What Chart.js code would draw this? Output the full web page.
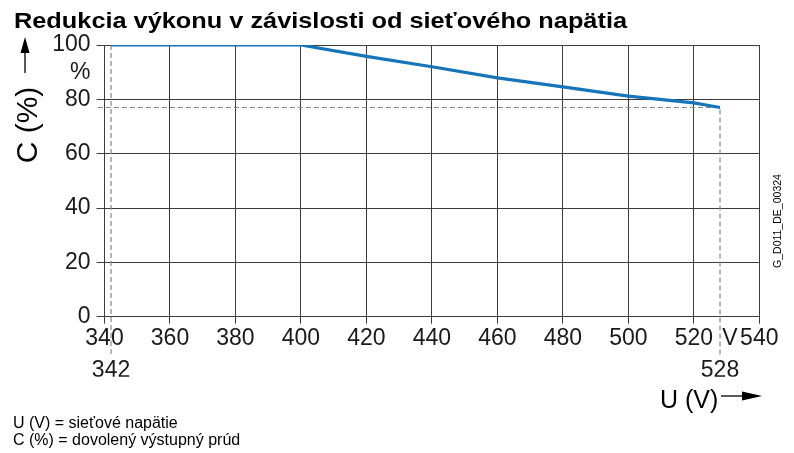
<!DOCTYPE html>
<html>
<head>
<meta charset="utf-8">
<script src="https://cdn.jsdelivr.net/npm/chart.js@4.4.1/dist/chart.umd.min.js"></script>
<style>
  html, body { margin: 0; padding: 0; background: #fff; }
  #wrap { width: 794px; height: 453px; }
</style>
</head>
<body>
<div id="wrap"><canvas id="chart"></canvas></div>
<script>
// derating curve: allowed output current vs. mains voltage
const voltage = [342, 400, 420, 440, 460, 480, 500, 520, 528];
const current = [100, 100, 95.8, 92, 87.9, 84.6, 81.2, 78.7, 77];

const xTickValues = [340, 342, 360, 380, 400, 420, 440, 460, 480, 500, 520, 528, 531, 540];
const xTickLabels = ['340', ['', '342'], '360', '380', '400', '420', '440', '460', '480', '500', '520', ['', '528'], 'V', '540'];
const yTickValues = [0, 20, 40, 60, 80, 90, 100];
const yTickLabels = ['0', '20', '40', '60', '80', '%', '100'];

const guideLow = -14;       // dashed guides run below the axis to the labels
const guideLeft = 338;      // horizontal guide starts just left of the axis
const minVoltage = 342;
const maxVoltage = 528;
const maxCurrentAtMax = 77;

const FONT = '"Liberation Sans", Arial, sans-serif';
const GRID = '#3c3c3c';

const isMajor = v => v % 20 === 0;

const extras = {
  id: 'extras',
  afterDraw(chart) {
    const c = chart.ctx;
    c.save();
    c.fillStyle = '#000';
    c.strokeStyle = '#000';

    // title (wide bold face in the original, stretch to its width)
    const title = 'Redukcia výkonu v závislosti od sieťového napätia';
    c.font = 'bold 22px ' + FONT;
    c.textAlign = 'left';
    c.textBaseline = 'alphabetic';
    const tw = c.measureText(title).width;
    c.save();
    c.translate(14, 28);
    c.scale(613 / tw, 1);
    c.fillText(title, 0, 0);
    c.restore();

    // y title with arrow
    c.save();
    c.translate(37, 125);
    c.rotate(-Math.PI / 2);
    c.font = '30px ' + FONT;
    c.textAlign = 'center';
    c.fillText('C (%)', 0, 0);
    c.restore();
    c.lineWidth = 1.3;
    c.beginPath();
    c.moveTo(25, 73);
    c.lineTo(25, 50);
    c.stroke();
    c.beginPath();
    c.moveTo(25, 37);
    c.lineTo(20.5, 53);
    c.lineTo(29.5, 53);
    c.closePath();
    c.fill();

    // x title with arrow
    c.font = '25px ' + FONT;
    c.textAlign = 'left';
    c.fillText('U (V)', 660, 408);
    c.beginPath();
    c.moveTo(721, 396);
    c.lineTo(745, 396);
    c.stroke();
    c.beginPath();
    c.moveTo(762, 396);
    c.lineTo(742, 391.5);
    c.lineTo(742, 400.5);
    c.closePath();
    c.fill();

    // drawing code
    c.save();
    c.translate(781, 221);
    c.rotate(-Math.PI / 2);
    c.font = '10.5px ' + FONT;
    c.textAlign = 'center';
    c.fillText('G_D011_DE_00324', 0, 0);
    c.restore();

    // footnotes
    c.font = '16px ' + FONT;
    c.textAlign = 'left';
    c.fillText('U (V) = sieťové napätie', 13, 428);
    c.fillText('C (%) = dovolený výstupný prúd', 13, 445);
    c.restore();
  }
};

new Chart(document.getElementById('chart'), {
  type: 'scatter',
  data: {
    datasets: [{
      data: voltage.map((v, i) => ({ x: v, y: current[i] })),
      showLine: true,
      borderColor: '#1675b9',
      borderWidth: 3.2,
      pointRadius: 0,
      fill: false
    }, {
      data: [{ x: minVoltage, y: 100 }, { x: minVoltage, y: guideLow }],
      showLine: true,
      borderColor: '#8a8a8a',
      borderWidth: 1.2,
      borderDash: [5, 3],
      pointRadius: 0,
      clip: false
    }, {
      data: [{ x: guideLeft, y: maxCurrentAtMax }, { x: maxVoltage, y: maxCurrentAtMax }, { x: maxVoltage, y: guideLow }],
      showLine: true,
      borderColor: '#8a8a8a',
      borderWidth: 1.2,
      borderDash: [5, 3],
      pointRadius: 0,
      clip: false
    }]
  },
  options: {
    responsive: true,
    maintainAspectRatio: false,
    animation: false,
    layout: { padding: { left: 44.5, right: 34.7, top: 45, bottom: 76.3 } },
    plugins: { legend: { display: false }, tooltip: { enabled: false } },
    scales: {
      x: {
        type: 'linear',
        min: 340,
        max: 540,
        afterBuildTicks: s => { s.ticks = xTickValues.map(v => ({ value: v })); },
        afterFit: s => { s.height = 60; },
        ticks: {
          autoSkip: false,
          maxRotation: 0,
          padding: -1,
          color: '#1a1a1a',
          font: { family: FONT, size: 23, lineHeight: 1.38 },
          callback: (v) => xTickLabels[xTickValues.indexOf(v)]
        },
        grid: {
          color: ctx => (ctx.tick && isMajor(ctx.tick.value)) ? GRID : 'rgba(0,0,0,0)',
          tickColor: ctx => (ctx.tick && isMajor(ctx.tick.value)) ? GRID : 'rgba(0,0,0,0)',
          tickLength: 7,
          lineWidth: 1
        },
        border: { color: GRID, width: 1 }
      },
      y: {
        min: 0,
        max: 100,
        afterBuildTicks: s => { s.ticks = yTickValues.map(v => ({ value: v })); },
        afterFit: s => { s.width = 60; },
        ticks: {
          autoSkip: false,
          padding: 6,
          color: '#1a1a1a',
          font: { family: FONT, size: 23 },
          callback: (v) => yTickLabels[yTickValues.indexOf(v)]
        },
        grid: {
          color: ctx => (ctx.tick && isMajor(ctx.tick.value)) ? GRID : 'rgba(0,0,0,0)',
          tickColor: ctx => (ctx.tick && isMajor(ctx.tick.value)) ? GRID : 'rgba(0,0,0,0)',
          tickLength: 8,
          lineWidth: 1
        },
        border: { color: GRID, width: 1 }
      }
    }
  },
  plugins: [extras]
});
</script>
</body>
</html>
